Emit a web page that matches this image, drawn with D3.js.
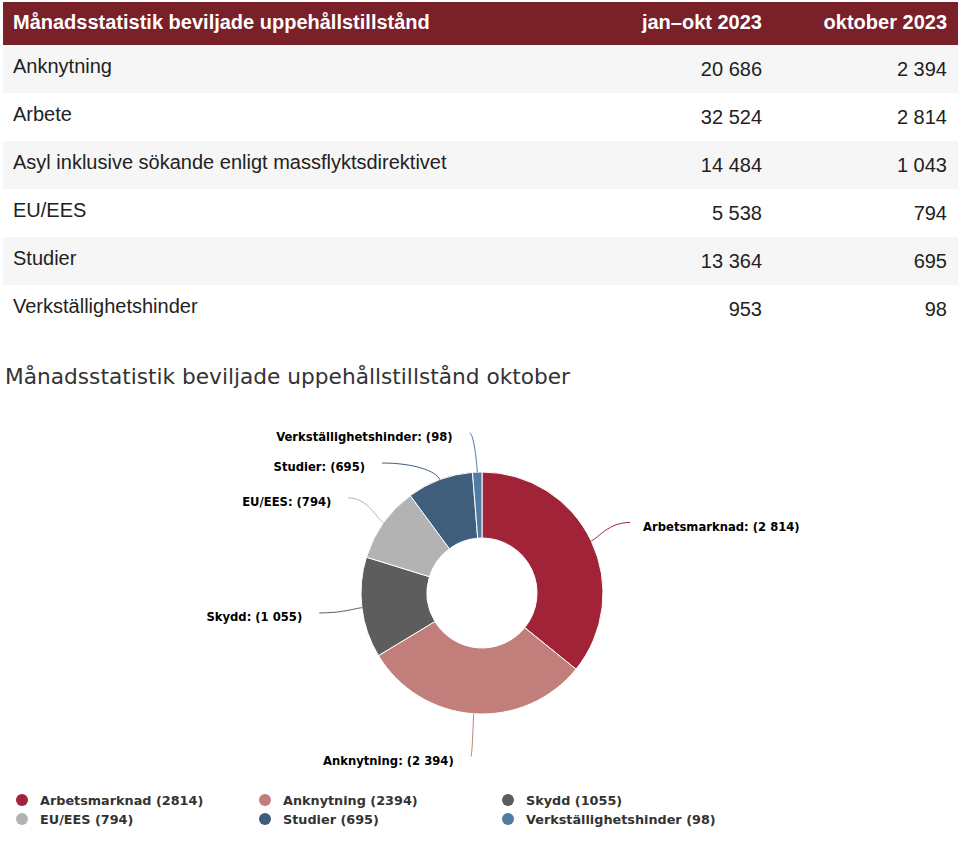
<!DOCTYPE html>
<html lang="sv">
<head>
<meta charset="utf-8">
<script src="https://cdn.jsdelivr.net/npm/d3@7/dist/d3.min.js"></script>
<style>
  html, body { margin: 0; padding: 0; background: #fff; }
  svg { display: block; }
</style>
</head>
<body>
<script>
// ---------- DATA ----------
const tableTitle = "Månadsstatistik beviljade uppehållstillstånd";
const tableColumns = ["jan–okt 2023", "oktober 2023"];
const tableCategories = [
  "Anknytning",
  "Arbete",
  "Asyl inklusive sökande enligt massflyktsdirektivet",
  "EU/EES",
  "Studier",
  "Verkställighetshinder"
];
const janOkt2023 = [20686, 32524, 14484, 5538, 13364, 953];
const oktober2023 = [2394, 2814, 1043, 794, 695, 98];

const chartTitle = "Månadsstatistik beviljade uppehållstillstånd oktober";
const pieCategories = ["Arbetsmarknad", "Anknytning", "Skydd", "EU/EES", "Studier", "Verkställighetshinder"];
const pieValues = [2814, 2394, 1055, 794, 695, 98];
const pieColors = ["#a12338", "#c17e7b", "#5d5d5d", "#b3b3b3", "#3e5e7c", "#4f7ca5"];

// ---------- SETUP ----------
const W = 978, H = 851;
const svg = d3.select("body").append("svg").attr("width", W).attr("height", H);

const locale = d3.formatLocale({ decimal: ",", thousands: "\u00a0", grouping: [3], currency: ["", " kr"] });
const fmtSpace = locale.format(",d");
const fmtPlain = d3.format("d");

// ---------- TABLE ----------
const tableLeft = 3, tableRight = 958;
const y = d3.scaleBand().domain(tableCategories).range([45, 333]).paddingInner(0).paddingOuter(0);
const colRight = [762, 947];

svg.append("rect")
  .attr("x", tableLeft).attr("y", 2)
  .attr("width", tableRight - tableLeft).attr("height", 43)
  .attr("fill", "#7a2029");

const headFont = "'Liberation Sans', Arial, sans-serif";
svg.append("text")
  .attr("x", 13).attr("y", 29)
  .attr("font-family", headFont).attr("font-size", 20).attr("font-weight", "bold")
  .attr("fill", "#fff").text(tableTitle);
svg.selectAll("text.colhead").data(tableColumns).join("text")
  .attr("class", "colhead")
  .attr("x", (d, i) => colRight[i]).attr("y", 29)
  .attr("text-anchor", "end")
  .attr("font-family", headFont).attr("font-size", 20).attr("font-weight", "bold")
  .attr("fill", "#fff").text(d => d);

const rows = svg.selectAll("g.row")
  .data(tableCategories.map((c, i) => ({ c, a: janOkt2023[i], b: oktober2023[i], i })))
  .join("g").attr("class", "row")
  .attr("transform", d => `translate(0,${y(d.c)})`);

rows.append("rect")
  .attr("x", tableLeft).attr("y", 0)
  .attr("width", tableRight - tableLeft).attr("height", y.bandwidth())
  .attr("fill", d => d.i % 2 === 0 ? "#f6f6f6" : "#ffffff");

rows.append("text")
  .attr("x", 13).attr("y", 28)
  .attr("font-family", headFont).attr("font-size", 20)
  .attr("fill", "#222").text(d => d.c);
rows.append("text")
  .attr("x", colRight[0]).attr("y", 31).attr("text-anchor", "end")
  .attr("font-family", headFont).attr("font-size", 20)
  .attr("fill", "#222").text(d => fmtSpace(d.a));
rows.append("text")
  .attr("x", colRight[1]).attr("y", 31).attr("text-anchor", "end")
  .attr("font-family", headFont).attr("font-size", 20)
  .attr("fill", "#222").text(d => fmtSpace(d.b));

// ---------- CHART TITLE ----------
const chartFont = "'DejaVu Sans', Verdana, sans-serif";
svg.append("text")
  .attr("x", 5).attr("y", 384)
  .attr("font-family", chartFont).attr("font-size", 21.7)
  .attr("fill", "#333").text(chartTitle);

// ---------- DONUT ----------
const cx = 482, cy = 593, R = 121, r0 = 55, labelR = 164;
const pieData = pieCategories.map((c, i) => ({ c, v: pieValues[i], color: pieColors[i] }));
const arcs = d3.pie().sort(null).value(d => d.v)(pieData);
const arcGen = d3.arc().innerRadius(r0).outerRadius(R);

const gPie = svg.append("g").attr("transform", `translate(${cx},${cy})`);
gPie.selectAll("path.slice").data(arcs).join("path")
  .attr("class", "slice")
  .attr("d", arcGen)
  .attr("fill", d => d.data.color)
  .attr("stroke", "#fff").attr("stroke-width", 1).attr("stroke-linejoin", "round");

// label layout
const labels = arcs.map(a => {
  const mid = (a.startAngle + a.endAngle) / 2;
  const left = Math.sin(mid) < 0;
  return {
    a, mid, left,
    x: labelR * Math.sin(mid),
    y: -labelR * Math.cos(mid),
    ex: R * Math.sin(mid), ey: -R * Math.cos(mid),
    ox: (R + 9) * Math.sin(mid), oy: -(R + 9) * Math.cos(mid),
    moved: false
  };
});
// avoid overlap on each side
[true, false].forEach(side => {
  const s = labels.filter(l => l.left === side).sort((p, q) => p.y - q.y);
  if (s.length && s[0].y < -labelR + 4) { s[0].y = -labelR + 4; s[0].x -= 6; }
  for (let i = 1; i < s.length; i++) {
    if (s[i].y < s[i - 1].y + 30) {
      s[i].y = s[i - 1].y + 30;
      s[i].moved = true;
    }
  }
  s.forEach(l => {
    if (l.moved) {
      const dy = Math.max(-labelR, Math.min(labelR, l.y));
      l.x = (l.left ? -1 : 1) * Math.sqrt(labelR * labelR - dy * dy);
    }
  });
});

gPie.selectAll("path.connector").data(labels).join("path")
  .attr("class", "connector")
  .attr("fill", "none")
  .attr("stroke", d => d.a.data.color)
  .attr("stroke-width", 1)
  .attr("d", d => {
    const c1x = d.x + (d.ex - d.x) * 0.55;
    return `M${d.x},${d.y} C${c1x},${d.y} ${d.ox},${d.oy} ${d.ex},${d.ey}`;
  });

gPie.selectAll("text.dlabel").data(labels).join("text")
  .attr("class", "dlabel")
  .attr("x", d => d.x + (d.left ? -17 : 13))
  .attr("y", d => d.y + 4)
  .attr("dy", "0.35em")
  .attr("text-anchor", d => d.left ? "end" : "start")
  .attr("font-family", chartFont).attr("font-size", 11.6).attr("font-weight", "bold")
  .attr("fill", "#000")
  .text(d => `${d.a.data.c}: (${fmtSpace(d.a.data.v)})`);

// ---------- LEGEND ----------
const legend = svg.append("g");
const legItems = legend.selectAll("g.item").data(pieData).join("g")
  .attr("class", "item")
  .attr("transform", (d, i) => `translate(${22 + (i % 3) * 243},${800 + Math.floor(i / 3) * 19})`);
legItems.append("circle").attr("r", 6).attr("fill", d => d.color);
legItems.append("text")
  .attr("x", 18).attr("y", 0).attr("dy", "0.36em")
  .attr("font-family", chartFont).attr("font-size", 12.8).attr("font-weight", "bold")
  .attr("fill", "#333")
  .text(d => `${d.c} (${fmtPlain(d.v)})`);
</script>
</body>
</html>
